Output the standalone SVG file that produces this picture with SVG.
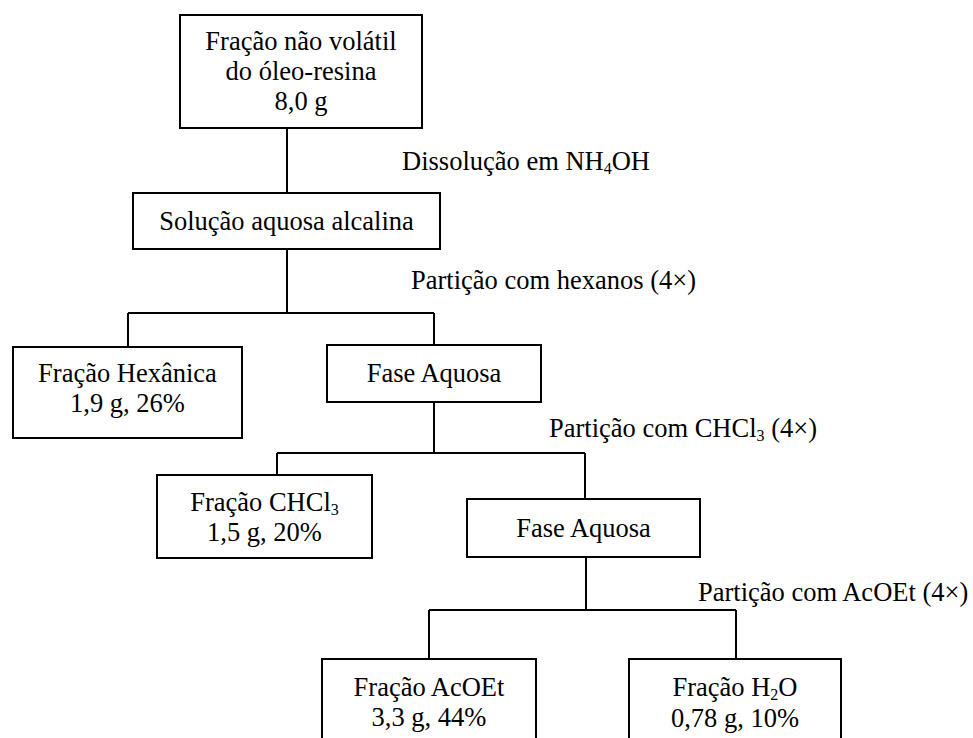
<svg xmlns="http://www.w3.org/2000/svg" width="973" height="738" viewBox="0 0 973 738">
<style>
.box{fill:#fff;stroke:#000;stroke-width:2}
.ln{fill:none;stroke:#000;stroke-width:2}
text{font-family:"Liberation Serif","Times New Roman",serif;font-size:26.5px;fill:#000}
.c{text-anchor:middle}
.sub{font-size:16px}
</style>
<rect width="973" height="738" fill="#fff"/>
<g id="connectors">
<path class="ln" d="M287 128V192"/>
<path class="ln" d="M287 249V313"/>
<path class="ln" d="M128 313H434M128 313V347M434 313V345"/>
<path class="ln" d="M434 402V453"/>
<path class="ln" d="M277 453H585M277 453V475M585 453V499"/>
<path class="ln" d="M586 557V610"/>
<path class="ln" d="M429 610H736M429 610V659M736 610V659"/>
</g>
<g id="labels">
<text x="402" y="170">Dissolução em NH<tspan class="sub" dy="4">4</tspan><tspan dy="-4">OH</tspan></text>
<text x="411" y="289">Partição com hexanos (4×)</text>
<text x="549" y="437">Partição com CHCl<tspan class="sub" dy="4">3</tspan><tspan dy="-4"> (4×)</tspan></text>
<text x="698" y="601">Partição com AcOEt (4×)</text>
</g>
<g id="n1"><rect class="box" x="180" y="15" width="242" height="113"/>
<text class="c" x="301" y="50">Fração não volátil</text>
<text class="c" x="301" y="80">do óleo-resina</text>
<text class="c" x="301" y="110">8,0 g</text></g>
<g id="n2"><rect class="box" x="133" y="193" width="307" height="56"/>
<text class="c" x="286.5" y="230">Solução aquosa alcalina</text></g>
<g id="n3"><rect class="box" x="13" y="347" width="229" height="91"/>
<text class="c" x="127.5" y="382">Fração Hexânica</text>
<text class="c" x="127.5" y="412">1,9 g, 26%</text></g>
<g id="n4"><rect class="box" x="327" y="345" width="214" height="57"/>
<text class="c" x="434" y="382">Fase Aquosa</text></g>
<g id="n5"><rect class="box" x="157" y="475" width="215" height="83"/>
<text class="c" x="264.5" y="511">Fração CHCl<tspan class="sub" dy="4">3</tspan></text>
<text class="c" x="264.5" y="541">1,5 g, 20%</text></g>
<g id="n6"><rect class="box" x="467" y="499" width="233" height="58"/>
<text class="c" x="583.5" y="537">Fase Aquosa</text></g>
<g id="n7"><rect class="box" x="322" y="659" width="214" height="100"/>
<text class="c" x="429" y="696">Fração AcOEt</text>
<text class="c" x="429" y="726">3,3 g, 44%</text></g>
<g id="n8"><rect class="box" x="629" y="659" width="212" height="100"/>
<text class="c" x="735" y="696">Fração H<tspan class="sub" dy="4">2</tspan><tspan dy="-4">O</tspan></text>
<text class="c" x="735" y="727">0,78 g, 10%</text></g>
</svg>
